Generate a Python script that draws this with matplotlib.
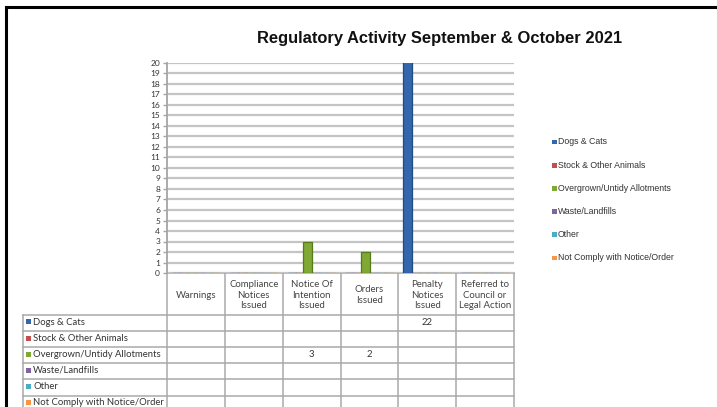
import numpy as np
import matplotlib.pyplot as plt
from matplotlib.patches import Rectangle

# categories along the x axis / table columns
categories = ['Warnings', 'Compliance\nNotices\nIssued', 'Notice Of\nIntention\nIssued',
              'Orders\nIssued', 'Penalty\nNotices\nIssued', 'Referred to\nCouncil or\nLegal Action']

series_names = ['Dogs & Cats', 'Stock & Other Animals', 'Overgrown/Untidy Allotments',
                'Waste/Landfills', 'Other', 'Not Comply with Notice/Order']
nan = np.nan
dogs_cats = [nan, nan, nan, nan, 22, nan]
stock_animals = [nan, nan, nan, nan, nan, nan]
overgrown = [nan, nan, 3, 2, nan, nan]
waste = [nan, nan, nan, nan, nan, nan]
other = [nan, nan, nan, nan, nan, nan]
not_comply = [nan, nan, nan, nan, nan, nan]
series_values = [dogs_cats, stock_animals, overgrown, waste, other, not_comply]

colors = ['#3366AA', '#C0504D', '#7FA835', '#8064A2', '#4BACC6', '#F79646']
bar_edges = ['#1F4A85', '#8E3330', '#55791C', '#5C4580', '#2E8AA3', '#C97320']

W, H = 717, 407
fig = plt.figure(figsize=(W / 100, H / 100), dpi=100)
fig.patch.set_facecolor('white')

# pixel geometry of plot / table
x0, x1 = 167, 514
y_top, y_bot = 63, 273
ax = fig.add_axes([x0 / W, (H - y_bot) / H, (x1 - x0) / W, (y_bot - y_top) / H])
ncat = len(categories)
ax.set_xlim(0, ncat)
ax.set_ylim(0, 20)
ax.set_yticks(range(0, 21))
ax.set_xticks([])
ax.yaxis.grid(True, color='#C4C4C4', lw=1.6)
ax.set_axisbelow(True)
for s in ['top', 'right', 'bottom']:
    ax.spines[s].set_visible(False)
ax.spines['left'].set_color('#A5A5A5')
ax.spines['left'].set_linewidth(1.3)
ax.tick_params(axis='y', length=3, width=1, color='#A5A5A5', labelsize=6,
               labelcolor='#333333', pad=2)
for lab in ax.get_yticklabels():
    lab.set_fontfamily('Lato')

step = 0.135
xs = np.arange(ncat) + 0.5
for k, vals in enumerate(series_values):
    v = np.nan_to_num(np.array(vals, dtype=float))
    ax.bar(xs + (k - 2.5) * step, v, width=0.155, color=colors[k],
           edgecolor=bar_edges[k], lw=0.9, zorder=3)

# overlay in pixel coordinates for table, legend, title and border
ov = fig.add_axes([0, 0, 1, 1], zorder=-1)
ov.set_xlim(0, W)
ov.set_ylim(H, 0)
ov.axis('off')

# outer border
ov.plot([6, 6], [7, H + 5], color='black', lw=2.2)
ov.plot([6, W + 5], [7, 7], color='black', lw=2.2)

ov.text(440, 39, 'Regulatory Activity September & October 2021', ha='center', va='center',
        fontsize=11.9, fontweight='bold', family='Liberation Sans', color='#111111')

# data table
grid_c = '#A9A9A9'
col_x = np.linspace(x0, x1, ncat + 1)
lab_x0 = 23
head_bot = 315
row_h = 16.1
nrow = len(series_names)
row_y = [head_bot + i * row_h for i in range(nrow + 1)]
for cx in col_x:
    ov.plot([cx, cx], [y_bot, H + 5], color=grid_c, lw=1.1)
ov.plot([lab_x0, lab_x0], [head_bot, H + 5], color=grid_c, lw=1.1)
ov.plot([x0, x1], [y_bot, y_bot], color=grid_c, lw=1.1)
for ry in row_y:
    ov.plot([lab_x0, x1], [ry, ry], color=grid_c, lw=1.1)

for i, cat in enumerate(categories):
    ov.text((col_x[i] + col_x[i + 1]) / 2, (y_bot + head_bot) / 2 + 1, cat, ha='center',
            va='center', fontsize=6.9, family='Lato', color='#444444', linespacing=1.25)

for r, name in enumerate(series_names):
    cy = row_y[r] + row_h / 2 - 1
    ov.add_patch(Rectangle((26, cy - 2.6), 5, 5, facecolor=colors[r], edgecolor='none'))
    ov.text(33, cy, name, ha='left', va='center', fontsize=6.8, family='Lato', color='#333333')
    for i, v in enumerate(series_values[r]):
        if not np.isnan(v):
            ov.text((col_x[i] + col_x[i + 1]) / 2, cy, f'{v:g}', ha='center', va='center',
                    fontsize=6.8, family='Lato', color='#333333')

# legend
for r, name in enumerate(series_names):
    ly = 142 + r * 23.2
    ov.add_patch(Rectangle((552, ly - 2.4), 4.8, 4.8, facecolor=colors[r], edgecolor='none'))
    ov.text(558, ly, name, ha='left', va='center', fontsize=6.3, family='Liberation Sans',
            color='#333333')

fig.savefig('out.png', dpi=100)
